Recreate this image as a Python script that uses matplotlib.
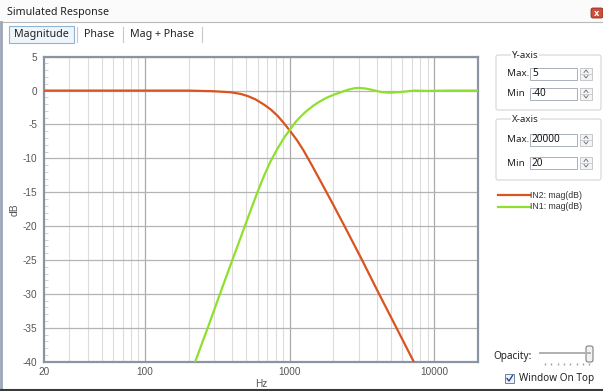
import matplotlib
matplotlib.use("Agg")
import matplotlib.pyplot as plt
from matplotlib.patches import Rectangle, FancyBboxPatch
from matplotlib.ticker import FixedLocator, NullFormatter, MultipleLocator

# values
lp_freq = [20, 100, 200, 300, 391, 459, 511, 580, 667, 740, 826, 910, 1000,
           1120, 1246, 1420, 1626, 1959, 2390, 3160, 4140, 5460, 7190, 8000]
lp_db = [0, 0, 0, -0.1, -0.25, -0.5, -0.8, -1.3, -2.1, -2.8, -3.75, -4.8, -5.9,
         -7.3, -8.85, -11.0, -13.3, -16.5, -20, -25, -30, -35, -40, -43]

hp_freq = [205, 222, 271, 329, 401, 489, 540, 600, 660, 730, 820, 920, 1000,
           1100, 1200, 1300, 1450, 1600, 1800, 2020, 2250, 2500, 2800, 3010,
           3350, 3630, 4260, 4880, 5890, 7220, 9010, 12000, 20000]
hp_db = [-43, -40, -35, -30, -25, -20, -17.5, -14.9, -12.7, -10.6, -8.6, -6.85, -5.8,
         -4.6, -3.75, -3.05, -2.25, -1.65, -1.05, -0.6, -0.25, 0.1, 0.35, 0.4,
         0.3, 0.15, -0.2, -0.32, -0.2, 0.0, -0.05, 0, 0]

series_labels = ["IN2: mag(dB)", "IN1: mag(dB)"]
series_colors = ["#d9541e", "#8ee02c"]

x_ticks = [20, 100, 1000, 10000]
y_ticks = list(range(-40, 6, 5))
tabs = ["Magnitude", "Phase", "Mag + Phase"]

W, H = 603, 391
fig = plt.figure(figsize=(W / 100, H / 100), dpi=100)
fig.patch.set_facecolor("white")

# window chrome, drawn in pixel coords
ui = fig.add_axes([0, 0, 1, 1])
ui.set_xlim(0, W)
ui.set_ylim(H, 0)
ui.axis("off")
ui_font = "Noto Sans"

ui.add_patch(Rectangle((0, 0), W, 22, color="#fbfbfb"))
ui.plot([0, W], [22, 22], color="#b9b9b9", lw=0.8)
ui.plot([1, 1], [22, H], color="#9aa6b8", lw=2)
ui.plot([0, W], [389.5, 389.5], color="#3a3a3a", lw=1.5)
ui.text(7, 12, "Simulated Response", fontsize=7.7, family=ui_font, va="center", color="#222222")
ui.add_patch(FancyBboxPatch((591, 8), 12, 10, boxstyle="round,pad=0,rounding_size=2",
                            fc="#c8503c", ec="#8a3020", lw=0.6))
ui.text(597, 13, "x", fontsize=6, color="white", ha="center", va="center", weight="bold")

# tabs
ui.add_patch(Rectangle((9, 26), 65, 17, fc="#eef5fb", ec="#8fb4d4", lw=0.8))
tab_x = [41.5, 99, 162.5]
for t, x in zip(tabs, tab_x):
    ui.text(x, 34.5, t, fontsize=7.7, family=ui_font, ha="center", va="center", color="#222222")
for x in [77, 123, 202]:
    ui.plot([x, x], [27, 42], color="#c8c8c8", lw=0.8)

# right panel: group boxes
def group(y0, y1, label):
    ui.add_patch(FancyBboxPatch((496, y0), 105, y1 - y0, boxstyle="round,pad=0,rounding_size=2",
                                fc="white", ec="#d5d5d5", lw=0.8))
    ui.text(512, y0, label, fontsize=7, family=ui_font, va="center", color="#222222",
            bbox=dict(fc="white", ec="none", pad=0.5))

def spin(y, label, value):
    ui.text(507, y, label, fontsize=7, family=ui_font, va="center", color="#222222")
    ui.add_patch(Rectangle((530, y - 6), 47, 12, fc="white", ec="#a8b0ba", lw=0.7))
    ui.text(532, y, value, fontsize=7.2, family=ui_font, va="center", color="#111111")
    ui.add_patch(Rectangle((580, y - 6), 12, 12, fc="#f4f4f4", ec="#c0c0c0", lw=0.6))
    ui.plot([580, 592], [y, y], color="#c0c0c0", lw=0.5)
    ui.plot([584, 586, 588], [y - 1.5, y - 4, y - 1.5], color="#5a6a80", lw=0.6)
    ui.plot([584, 586, 588], [y + 1.5, y + 4, y + 1.5], color="#5a6a80", lw=0.6)

group(55, 110, "Y-axis")
spin(74, "Max.", "5")
spin(94, "Min", "-40")
group(119, 180, "X-axis")
spin(140, "Max.", "20000")
spin(163, "Min", "20")

for i, (lab, col) in enumerate(zip(series_labels, series_colors)):
    y = 195 + i * 11.5
    ui.plot([498, 530], [y, y], color=col, lw=1.6)
    ui.text(530, y, lab, fontsize=6.3, family="Liberation Sans", va="center", color="#333333")

# opacity slider
ui.text(493, 357, "Opacity:", fontsize=7.2, family=ui_font, va="center", color="#222222")
ui.plot([540, 590], [352.5, 352.5], color="#b0b0b0", lw=1.4)
ui.add_patch(FancyBboxPatch((586, 346), 7, 16, boxstyle="round,pad=0,rounding_size=2",
                            fc="#f2f2f2", ec="#707070", lw=0.7))
for k in range(8):
    ui.plot([545 + k * 6.3], [364], marker="|", ms=2, color="#a0a0a0")

# checkbox
ui.add_patch(Rectangle((505, 374), 9, 9, fc="#eef2f8", ec="#7080a0", lw=0.7))
ui.plot([507, 509, 512.5], [378.5, 381, 375.5], color="#2a4a9a", lw=1.0)
ui.text(519, 378.5, "Window On Top", fontsize=7.2, family=ui_font, va="center", color="#222222")

# plot area
left, right, top, bottom = 44, 478, 56.7, 361.7
ax = fig.add_axes([left / W, 1 - bottom / H, (right - left) / W, (bottom - top) / H])
ax.set_facecolor("white")
ax.set_xscale("log")
ax.set_xlim(20, 20000)
ax.set_ylim(-40, 5)

minor_x = [m * 10 ** e for e in range(1, 5) for m in range(2, 10) if 20 <= m * 10 ** e <= 20000]
for f in minor_x:
    ax.axvline(f, color="#dcdcdc", lw=0.8, zorder=0)
for f in [100, 1000, 10000]:
    ax.axvline(f, color="#a9a9a9", lw=0.9, zorder=0)
for v in y_ticks:
    ax.axhline(v, color="#b4b4b4", lw=0.9, zorder=0)

ax.plot(lp_freq, lp_db, color=series_colors[0], lw=1.6, zorder=3, solid_capstyle="round")
ax.plot(hp_freq, hp_db, color=series_colors[1], lw=1.6, zorder=3, solid_capstyle="round")

ax.xaxis.set_major_locator(FixedLocator(x_ticks))
ax.xaxis.set_minor_locator(FixedLocator([]))
ax.xaxis.set_minor_formatter(NullFormatter())
ax.set_xticklabels([str(t) for t in x_ticks])
ax.set_yticks(y_ticks)
ax.set_yticklabels([str(t) for t in y_ticks])
ax.yaxis.set_minor_locator(MultipleLocator(1))
ax.tick_params(axis="both", which="major", length=0, labelsize=7.2, labelcolor="#555555", pad=5)
ax.tick_params(axis="x", pad=4)
ax.tick_params(axis="y", which="minor", direction="in", length=3, color="#c8c8c8", width=0.6)
for lbl in ax.get_xticklabels() + ax.get_yticklabels():
    lbl.set_family("Liberation Sans")

for s in ax.spines.values():
    s.set_color("#8a94a2")
    s.set_linewidth(1.6)

ax.set_xlabel("Hz", fontsize=7.2, color="#555555", family="Liberation Sans", labelpad=1)
ax.set_ylabel("dB", fontsize=7.5, color="#555555", family="Liberation Sans", labelpad=2)

fig.savefig("out.png", dpi=100, facecolor=fig.get_facecolor())
